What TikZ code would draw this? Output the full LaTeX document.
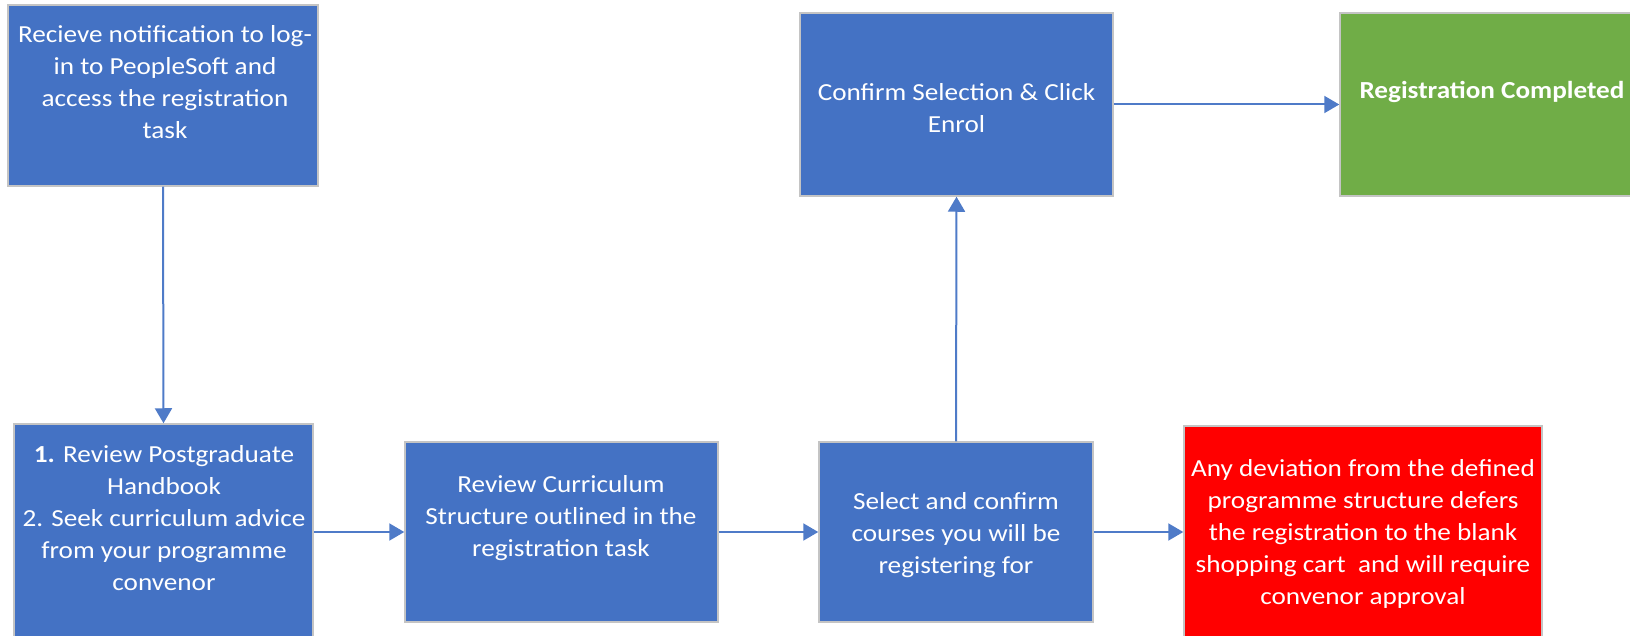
\documentclass[tikz,border=0pt]{standalone}
\usepackage{fontspec}
\setmainfont{Carlito}[FakeStretch=1.11]
\usetikzlibrary{arrows.meta}

\definecolor{boxblue}{HTML}{4472C4}
\definecolor{boxred}{HTML}{FF0000}
\definecolor{boxgreen}{HTML}{70AD47}
\definecolor{boxedge}{HTML}{C4C4C4}
\definecolor{linkblue}{HTML}{4F7BC8}

\begin{document}
\begin{tikzpicture}[x=1pt,y=-1pt,
    stepbox/.style={draw=boxedge, line width=1.5pt, inner sep=0pt},
    steptext/.style={text=white, align=center, inner sep=0pt,
      font=\fontsize{24.5}{32}\selectfont},
    link/.style={draw=linkblue, line width=2pt,
      -{Triangle[length=15pt,width=17pt]}}]
    \useasboundingbox (0,0) rectangle (1630,636);
    \clip (0,0) rectangle (1630,636);

    % boxes
    \node[stepbox, fill=boxblue, minimum width=310pt, minimum height=181pt] (notify) at (163,95.5) {};
    \node[stepbox, fill=boxblue, minimum width=299pt, minimum height=214pt] (handbook) at (163.5,531) {};
    \node[stepbox, fill=boxblue, minimum width=313pt, minimum height=180pt] (curriculum) at (561.5,532) {};
    \node[stepbox, fill=boxblue, minimum width=274pt, minimum height=180pt] (select) at (956,532) {};
    \node[stepbox, fill=boxred, minimum width=358pt, minimum height=212pt] (deviation) at (1363,532) {};
    \node[stepbox, fill=boxblue, minimum width=313pt, minimum height=183pt] (confirm) at (956.5,104.5) {};
    \node[stepbox, fill=boxgreen, minimum width=320pt, minimum height=183pt] (done) at (1500,104.5) {};

    % texts
    \node[steptext] (notify-txt) at (165,82) {Recieve notification to log-\\in to PeopleSoft and\\access the registration\\task};
    \node[steptext] (handbook-txt) at (164,518) {\textbf{1.} Review Postgraduate\\Handbook\\2. Seek curriculum advice\\from your programme\\convenor};
    \node[steptext] (curriculum-txt) at (561,518) {Review Curriculum\\Structure outlined in the\\registration task};
    \node[steptext] (select-txt) at (956,535) {Select and confirm\\courses you will be\\registering for};
    \node[steptext] (deviation-txt) at (1363,534) {Any deviation from the defined\\programme structure defers\\the registration to the blank\\shopping cart \ and will require\\convenor approval};
    \node[steptext] (confirm-txt) at (956.5,108) {Confirm Selection \& Click\\Enrol};
    \node[steptext, font=\fontsize{24.5}{32}\selectfont\bfseries] (done-txt) at (1492,92) {Registration Completed};

    % arrows
    \draw[link] (notify.south) -- (handbook.north);
    \draw[link] (handbook.east |- curriculum.west) -- (curriculum.west);
    \draw[link] (curriculum) -- (select);
    \draw[link] (select) -- (deviation);
    \draw[link] (select.north) -- (confirm.south);
    \draw[link] (confirm) -- (done);
\end{tikzpicture}
\end{document}
